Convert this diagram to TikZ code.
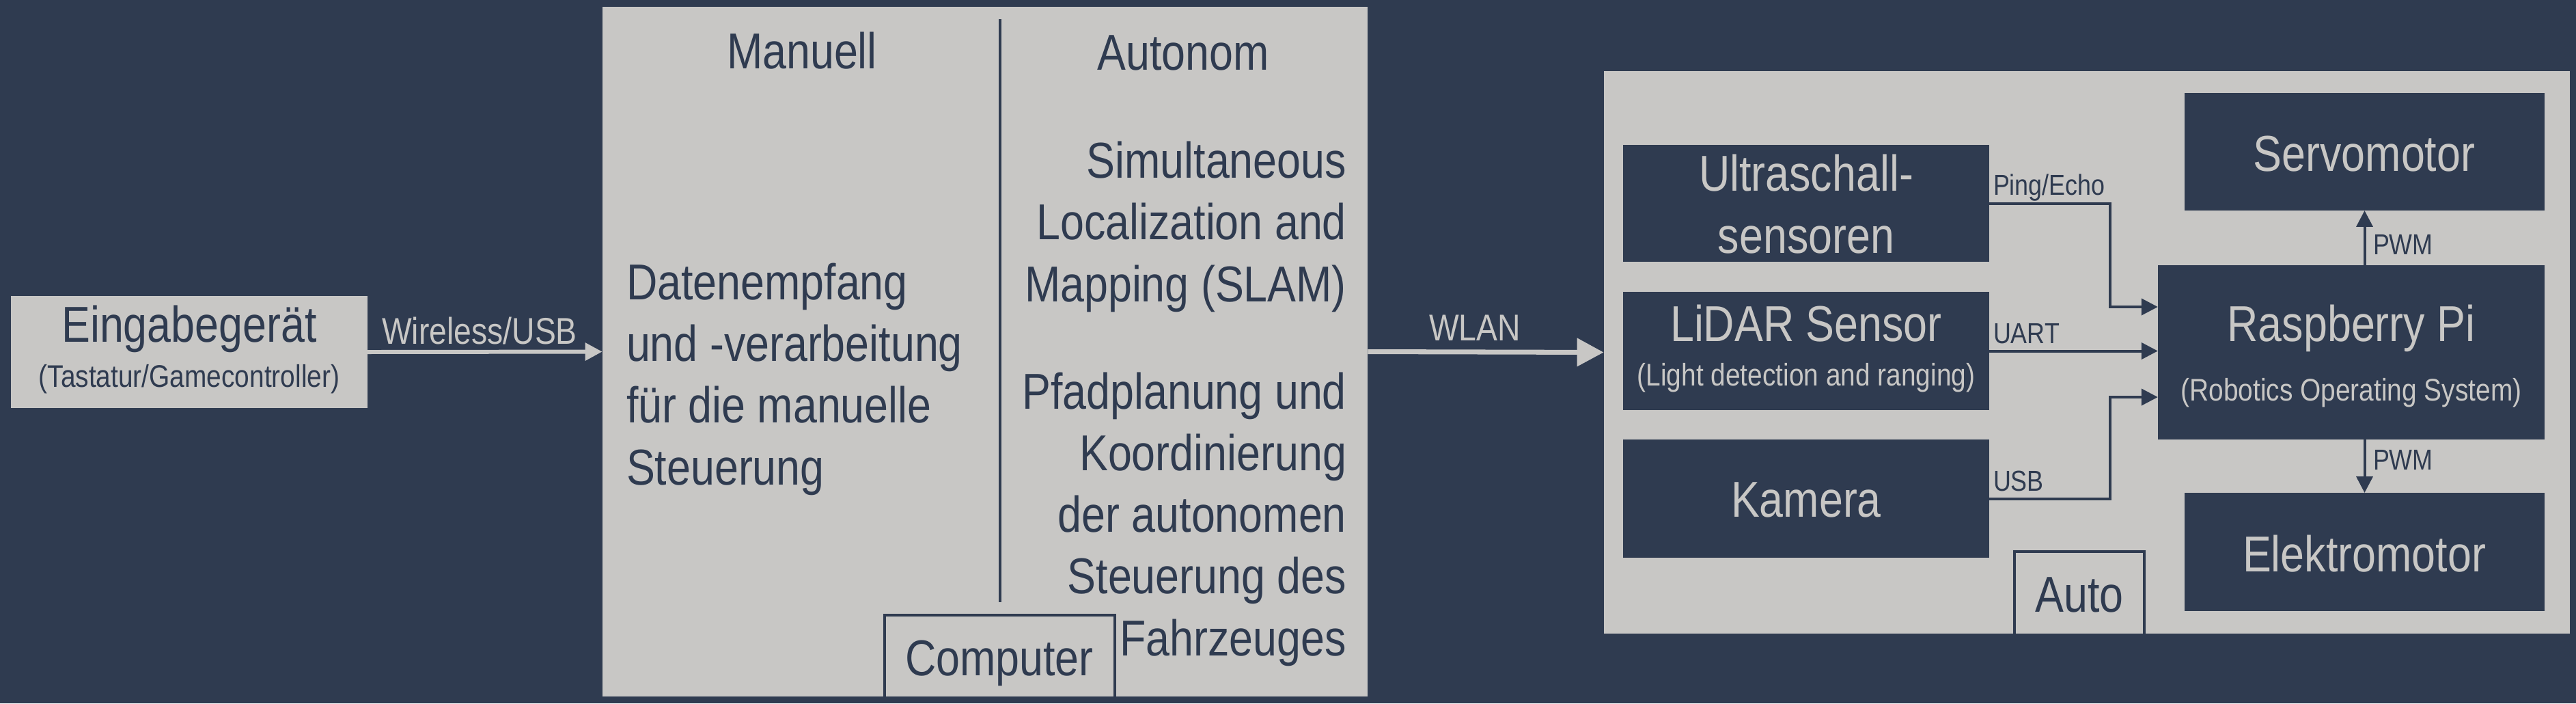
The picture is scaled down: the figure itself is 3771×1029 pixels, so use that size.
\documentclass[tikz,border=0pt]{standalone}
\usepackage{fontspec}
\setmainfont{Liberation Sans}[FakeStretch=0.85]
\usetikzlibrary{arrows.meta}
\definecolor{dark}{HTML}{2F3B50}
\definecolor{light}{HTML}{C8C7C5}
\begin{document}
\begin{tikzpicture}[x=0.01cm,y=-0.01cm,
  box/.style={rectangle, inner sep=0pt, outer sep=0pt, draw=none},
  lbox/.style={box, fill=light},
  dbox/.style={box, fill=dark},
  fbig/.style={font=\fontsize{21}{25.6}\selectfont},
  fsub/.style={font=\fontsize{13}{15}\selectfont},
  fmid/.style={font=\fontsize{15.5}{18}\selectfont},
  flab/.style={font=\fontsize{12}{14}\selectfont},
  txt/.style={inner sep=0pt, outer sep=0pt},
  conn/.style={draw=dark, line width=1.14pt, -{Triangle[length=6.8pt,width=6.8pt]}},
  rule/.style={draw=dark, line width=1.14pt},
]
\useasboundingbox (0,0) rectangle (3771,1029);
\fill[dark] (0,0) rectangle (3771,1029);

% --- Eingabegeraet
\node[lbox, minimum width=5.22cm, minimum height=1.64cm] (ein) at (277,515) {};
\node[txt, fbig, text=dark, anchor=base] (teinA) at (277,500) {Eingabegerät};
\node[txt, fsub, text=dark, anchor=base] (teinB) at (277,566) {(Tastatur/Gamecontroller)};

% --- Computer
\node[lbox, minimum width=11.2cm, minimum height=10.09cm] (comp) at (1442,514.5) {};
\coordinate (divtop) at (1464,28);
\coordinate (divbot) at (1464,881);
\draw[rule] (divtop) -- (divbot);
\node[txt, fbig, text=dark, anchor=base] (tmanu) at (1174,100) {Manuell};
\node[txt, fbig, text=dark, anchor=base] (tauto) at (1732,102) {Autonom};
% multi-line nodes: base anchor = baseline of the last line
\node[txt, fbig, text=dark, align=left, anchor=base west] (tmanutext) at (917,709)
  {Datenempfang\\und -verarbeitung\\für die manuelle\\Steuerung};
\node[txt, fbig, text=dark, align=right, anchor=base east] (tslam) at (1971,441)
  {Simultaneous\\Localization and\\Mapping (SLAM)};
\node[txt, fbig, text=dark, align=right, anchor=base east] (tpfad) at (1971,959)
  {Pfadplanung und\\Koordinierung\\der autonomen\\Steuerung des\\Fahrzeuges};
\coordinate (clA) at (1295,1019);
\coordinate (clB) at (1632,900);
\coordinate (clC) at (1632,1019);
\draw[rule] (clA) |- (clB) -- (clC);
\node[txt, fbig, text=dark, anchor=base] (tcomp) at (1463,988) {Computer};

% --- Auto
\node[lbox, minimum width=14.14cm, minimum height=8.23cm] (auto) at (3055,515.5) {};
\node[dbox, minimum width=5.36cm, minimum height=1.71cm] (ultra) at (2644,297.5) {};
\node[dbox, minimum width=5.36cm, minimum height=1.73cm] (lidar) at (2644,513.5) {};
\node[dbox, minimum width=5.36cm, minimum height=1.73cm] (kam) at (2644,729.5) {};
\node[dbox, minimum width=5.27cm, minimum height=1.72cm] (servo) at (3461.5,222) {};
\node[dbox, minimum width=5.66cm, minimum height=2.55cm] (rpi) at (3442,515.5) {};
\node[dbox, minimum width=5.27cm, minimum height=1.73cm] (elek) at (3461.5,807.5) {};

\node[txt, fbig, text=light, align=center, anchor=base] (tultra) at (2644,370) {Ultraschall-\\sensoren};
\node[txt, fbig, text=light, anchor=base] (tlidarA) at (2644,499) {LiDAR Sensor};
\node[txt, fsub, text=light, anchor=base] (tlidarB) at (2644,564) {(Light detection and ranging)};
\node[txt, fbig, text=light, anchor=base] (tkam) at (2644,756) {Kamera};
\node[txt, fbig, text=light, anchor=base] (tservo) at (3461,250) {Servomotor};
\node[txt, fbig, text=light, anchor=base] (trpiA) at (3442,499) {Raspberry Pi};
\node[txt, fsub, text=light, anchor=base] (trpiB) at (3442,586) {(Robotics Operating System)};
\node[txt, fbig, text=light, anchor=base] (telek) at (3461,836) {Elektromotor};

\coordinate (alA) at (2949,927);
\coordinate (alB) at (3139,807);
\coordinate (alC) at (3139,927);
\draw[rule] (alA) |- (alB) -- (alC);
\node[txt, fbig, text=dark, anchor=base] (tautobox) at (3044,895) {Auto};

% --- big arrows
\draw[draw=light, line width=1.7pt, -{Triangle[length=7.1pt,width=7.1pt]}] (ein.east) -- (comp.west);
\node[txt, fmid, text=light, anchor=base] (lwire) at (702,503) {Wireless/USB};
\draw[draw=light, line width=2pt, -{Triangle[length=11.1pt,width=11.4pt]}] (comp.east) -- (auto.west);
\node[txt, fmid, text=light, anchor=base] (lwlan) at (2159,498) {WLAN};

% --- connectors
\coordinate (pe) at (3089,449);
\coordinate (us) at (3089,581);
\draw[conn] (ultra.east) -| (pe) -- (pe -| rpi.west);
\draw[conn] (lidar.east) -- (lidar.east -| rpi.west);
\draw[conn] (kam.east) -| (us) -- (us -| rpi.west);
\draw[conn] (servo.south |- rpi.north) -- (servo.south);
\draw[conn] (elek.north |- rpi.south) -- (elek.north);
\node[txt, flab, text=dark, anchor=base west] (lping) at (2918,285) {Ping/Echo};
\node[txt, flab, text=dark, anchor=base west] (luart) at (2918,502) {UART};
\node[txt, flab, text=dark, anchor=base west] (lusb) at (2918,718) {USB};
\node[txt, flab, text=dark, anchor=base west] (lpwmA) at (3474,372) {PWM};
\node[txt, flab, text=dark, anchor=base west] (lpwmB) at (3474,687) {PWM};
\end{tikzpicture}
\end{document}
